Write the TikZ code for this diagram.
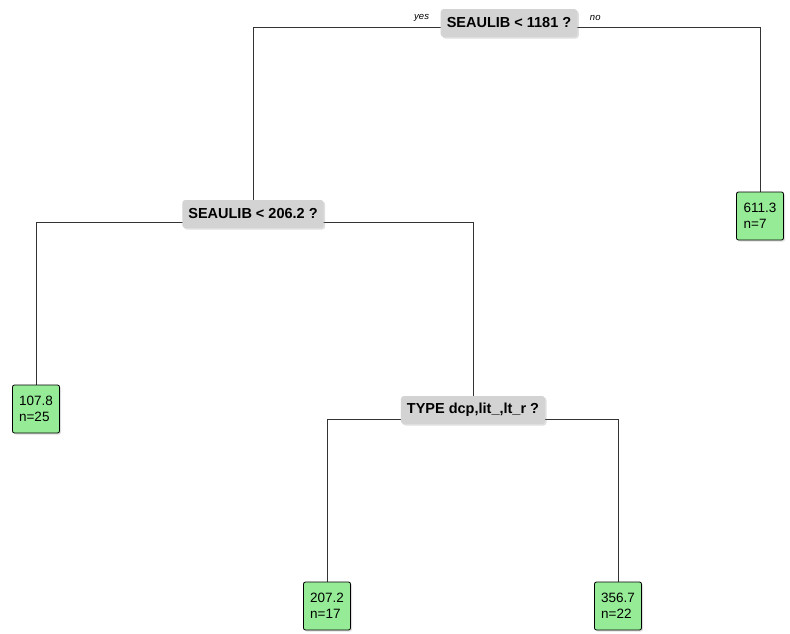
\documentclass[tikz,border=0pt]{standalone}
\usepackage{fontspec}
\setmainfont{Liberation Sans}
\usepackage{tikz}
\usetikzlibrary{shadows,backgrounds}
\definecolor{splitgray}{RGB}{211,211,211}
\definecolor{leafgreen}{RGB}{150,236,150}
\tikzset{
  split/.style={fill=splitgray, rounded corners=3pt, minimum height=28pt, inner xsep=6pt,
    font=\fontsize{14.5}{15}\selectfont\bfseries, drop shadow={shadow xshift=1.5pt, shadow yshift=-1.5pt, opacity=0.25}},
  leaf/.style={fill=leafgreen, draw=black, line width=0.8pt, rounded corners=2pt, minimum width=47pt,
    minimum height=48pt, align=left, inner xsep=3pt, font=\fontsize{13.5}{16}\selectfont,
    drop shadow={shadow xshift=1.5pt, shadow yshift=-1.5pt, opacity=0.25}},
  branch/.style={line width=1pt, black!80},
  side/.style={font=\fontsize{9.5}{10}\selectfont\itshape}
}
\begin{document}
\begin{tikzpicture}[x=1pt, y=-1pt]
  \useasboundingbox (0,0) rectangle (790,633);
  % splits
  \node[split] (root) at (509,23) {SEAULIB < 1181 ?};
  \node[split] (seau) at (253,214) {SEAULIB < 206.2 ?};
  \node[split] (type) at (473,410) {TYPE dcp,lit\_,lt\_r ?};
  % leaves
  \node[leaf] (l1) at (36,409) {107.8\\n=25};
  \node[leaf] (l2) at (760,216) {611.3\\n=7};
  \node[leaf] (l3) at (327,606) {207.2\\n=17};
  \node[leaf] (l4) at (618,606) {356.7\\n=22};
  % yes / no
  \node[side, anchor=east] (yes) at ([xshift=-8pt, yshift=5pt]root.west) {yes};
  \node[side, anchor=west] (no) at ([xshift=9pt, yshift=5pt]root.east) {no};
  % branches
  \begin{scope}[on background layer]
    \draw[branch] ([yshift=-4pt]root.center) -| (seau.north);
    \draw[branch] ([yshift=-4pt]root.center) -| (l2.north);
    \draw[branch] ([yshift=-8pt]seau.center) -| (l1.north);
    \draw[branch] ([yshift=-8pt]seau.center) -| (type.north);
    \draw[branch] ([yshift=-9pt]type.center) -| (l3.north);
    \draw[branch] ([yshift=-9pt]type.center) -| (l4.north);
  \end{scope}
\end{tikzpicture}
\end{document}
